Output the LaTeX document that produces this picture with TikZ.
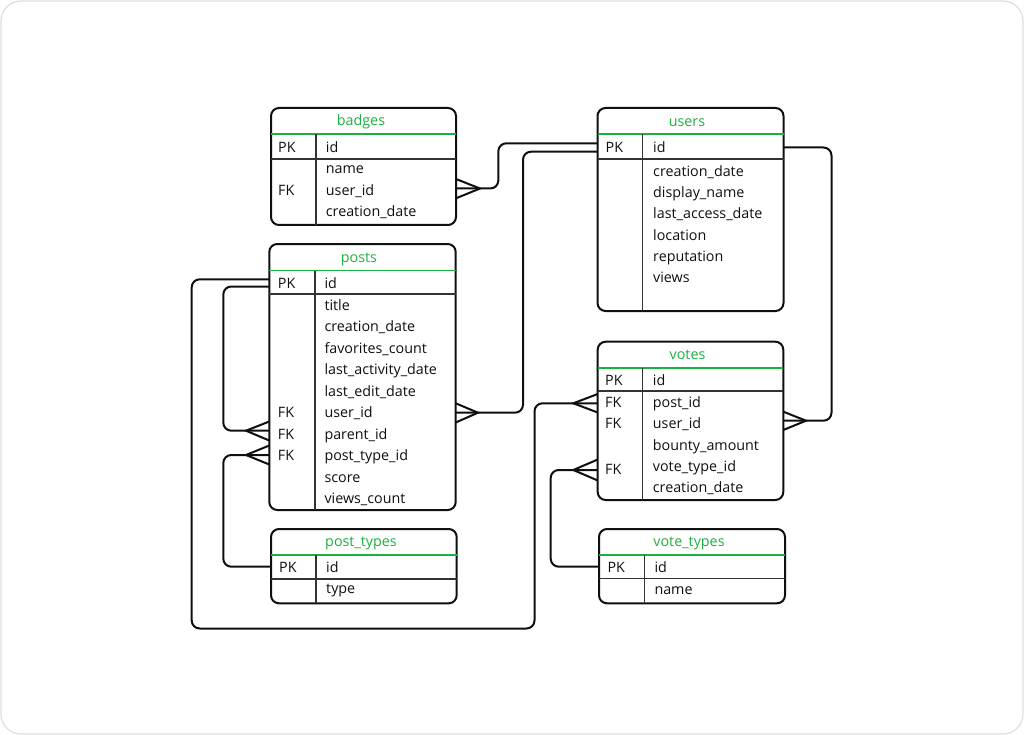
\documentclass[tikz,border=0pt]{standalone}
\usepackage{fontspec}
\setmainfont{Open Sans}
\definecolor{ttlgreen}{RGB}{28,176,64}
\definecolor{ink}{RGB}{15,15,15}
\definecolor{framegray}{RGB}{222,222,222}
\begin{document}
\begin{tikzpicture}[x=1pt,y=-1pt,
  tbl/.style={draw=ink, line width=2pt, rounded corners=8pt, inner sep=0pt, outer sep=0pt, anchor=north west},
  gline/.style={draw=ttlgreen, line width=1.9pt},
  rline/.style={draw=ink!85, line width=1.4pt},
  fld/.style={anchor=base west, inner sep=0pt, text=ink, font=\fontsize{14.3}{16}\selectfont},
  ttl/.style={anchor=base, inner sep=0pt, text=ttlgreen, font=\fontsize{14.3}{16}\selectfont},
  conn/.style={draw=ink, line width=2pt, rounded corners=8pt},
  crow/.style={draw=ink, line width=2pt}]
\useasboundingbox (0,0) rectangle (1024,735);
\draw[framegray, line width=1.2pt, rounded corners=20pt] (1,1) rectangle (1023,734);

% ---------- badges ----------
\node[tbl, minimum width=185pt, minimum height=117pt] (badges) at (271,108) {};
\draw[gline] (badges.west |- 0,134.3) -- (badges.east |- 0,134.3);
\draw[rline] (badges.west |- 0,159) -- (badges.east |- 0,159);
\draw[rline] (316,134.3) -- (316,225);
\node[ttl] (bt) at (361,126) {badges};
\node[fld] (bpk) at (278,152.3) {PK};
\node[fld] (bid) at (325.7,152.3) {id};
\node[fld] (bname) at (325.7,174) {name};
\node[fld] (bfk) at (278,195.3) {FK};
\node[fld] (buid) at (325.7,195.3) {user\_id};
\node[fld] (bcd) at (325.7,216.7) {creation\_date};

% ---------- users ----------
\node[tbl, minimum width=186pt, minimum height=203pt] (users) at (597.5,108) {};
\draw[gline] (users.west |- 0,134.3) -- (users.east |- 0,134.3);
\draw[rline] (users.west |- 0,159) -- (users.east |- 0,159);
\draw[rline] (642.7,134.3) -- (642.7,311);
\node[ttl] (ut) at (687,126.5) {users};
\node[fld] (upk) at (605.5,152.5) {PK};
\node[fld] (uid) at (653,152.5) {id};
\node[fld] (u1) at (653,176.3) {creation\_date};
\node[fld] (u2) at (653,197.6) {display\_name};
\node[fld] (u3) at (653,218.9) {last\_access\_date};
\node[fld] (u4) at (653,240.2) {location};
\node[fld] (u5) at (653,261.5) {reputation};
\node[fld] (u6) at (653,282.8) {views};

% ---------- posts ----------
\node[tbl, minimum width=186.4pt, minimum height=266pt] (posts) at (269.3,244) {};
\draw[gline] (posts.west |- 0,270.5) -- (posts.east |- 0,270.5);
\draw[rline] (posts.west |- 0,294) -- (posts.east |- 0,294);
\draw[rline] (315,270.5) -- (315,510);
\node[ttl] (pt) at (359,262.7) {posts};
\node[fld] (ppk) at (277.7,288.3) {PK};
\node[fld] (pid) at (324.3,288.3) {id};
\node[fld] (p1) at (324.3,310) {title};
\node[fld] (p2) at (324.3,331.5) {creation\_date};
\node[fld] (p3) at (324.3,353) {favorites\_count};
\node[fld] (p4) at (324.3,374.5) {last\_activity\_date};
\node[fld] (p5) at (324.3,396) {last\_edit\_date};
\node[fld] (p6) at (324.3,417.5) {user\_id};
\node[fld] (p7) at (324.3,439) {parent\_id};
\node[fld] (p8) at (324.3,460.5) {post\_type\_id};
\node[fld] (p9) at (324.3,482) {score};
\node[fld] (p10) at (324.3,503.5) {views\_count};
\node[fld] (pfk1) at (277.7,417.5) {FK};
\node[fld] (pfk2) at (277.7,439) {FK};
\node[fld] (pfk3) at (277.7,460.5) {FK};

% ---------- votes ----------
\node[tbl, minimum width=185.6pt, minimum height=158.3pt] (votes) at (597.7,341.7) {};
\draw[gline] (votes.west |- 0,367.7) -- (votes.east |- 0,367.7);
\draw[rline] (votes.west |- 0,391) -- (votes.east |- 0,391);
\draw[rline] (642.7,367.7) -- (642.7,500);
\node[ttl] (vt) at (687.5,359.3) {votes};
\node[fld] (vpk) at (605,385) {PK};
\node[fld] (vid) at (652.7,385) {id};
\node[fld] (v1) at (652.7,407.3) {post\_id};
\node[fld] (v2) at (652.7,428.7) {user\_id};
\node[fld] (v3) at (652.7,450.1) {bounty\_amount};
\node[fld] (v4) at (652.7,471.5) {vote\_type\_id};
\node[fld] (v5) at (652.7,492.9) {creation\_date};
\node[fld] (vfk1) at (605,407.3) {FK};
\node[fld] (vfk2) at (605,428.7) {FK};
\node[fld] (vfk3) at (605,474.3) {FK};

% ---------- post_types ----------
\node[tbl, minimum width=185.7pt, minimum height=74.3pt] (ptypes) at (271,529) {};
\draw[gline] (ptypes.west |- 0,555) -- (ptypes.east |- 0,555);
\draw[rline] (ptypes.west |- 0,579) -- (ptypes.east |- 0,579);
\draw[rline] (316,555) -- (316,603.3);
\node[ttl] (ptt) at (361,546.3) {post\_types};
\node[fld] (ptpk) at (279,572.7) {PK};
\node[fld] (ptid) at (326,572.7) {id};
\node[fld] (pttype) at (326,593.7) {type};

% ---------- vote_types ----------
\node[tbl, minimum width=186pt, minimum height=74.3pt] (vtypes) at (599,529) {};
\draw[gline] (vtypes.west |- 0,555) -- (vtypes.east |- 0,555);
\draw[rline] (vtypes.west |- 0,578.5) -- (vtypes.east |- 0,578.5);
\draw[rline] (644.3,555) -- (644.3,603.3);
\node[ttl] (vtt) at (689,546.3) {vote\_types};
\node[fld] (vtpk) at (607.3,572.7) {PK};
\node[fld] (vtid) at (654.3,572.7) {id};
\node[fld] (vtname) at (654.3,594) {name};

% ---------- connectors ----------
% badges.user_id -> users.id
\draw[crow] (badges.east |- 0,179) -- (480,188.5) -- (badges.east |- 0,198.3);
\draw[conn] (badges.east |- 0,188.5) -- (498.3,188.5) -- (498.3,143.3) -- (users.west |- 0,143.3);
% posts.user_id -> users.id
\draw[crow] (posts.east |- 0,403.3) -- (478,412.7) -- (posts.east |- 0,422.5);
\draw[conn] (posts.east |- 0,412.7) -- (523,412.7) -- (523,151.7) -- (users.west |- 0,151.7);
% votes.user_id -> users.id
\draw[crow] (votes.east |- 0,411.7) -- (806,420.7) -- (votes.east |- 0,430);
\draw[conn] (users.east |- 0,147.5) -- (831.5,147.5) -- (831.5,420.7) -- (votes.east |- 0,420.7);
% votes.post_id -> posts.id
\draw[crow] (votes.west |- 0,394) -- (573.3,403.3) -- (votes.west |- 0,412.5);
\draw[conn] (posts.west |- 0,279.3) -- (191.7,279.3) -- (191.7,628.5) -- (534.5,628.5) -- (534.5,403.3) -- (votes.west |- 0,403.3);
% posts.parent_id -> posts.id
\draw[crow] (posts.west |- 0,421.5) -- (246,430.7) -- (posts.west |- 0,440.5);
\draw[conn] (posts.west |- 0,286.5) -- (223.3,286.5) -- (223.3,430.7) -- (posts.west |- 0,430.7);
% posts.post_type_id -> post_types.id
\draw[crow] (posts.west |- 0,445.5) -- (246,455) -- (posts.west |- 0,464.5);
\draw[conn] (ptypes.west |- 0,566.7) -- (223.3,566.7) -- (223.3,455) -- (posts.west |- 0,455);
% votes.vote_type_id -> vote_types.id
\draw[crow] (votes.west |- 0,459.5) -- (573.3,470) -- (votes.west |- 0,480.5);
\draw[conn] (vtypes.west |- 0,566.7) -- (550.7,566.7) -- (550.7,470) -- (votes.west |- 0,470);
\end{tikzpicture}
\end{document}
